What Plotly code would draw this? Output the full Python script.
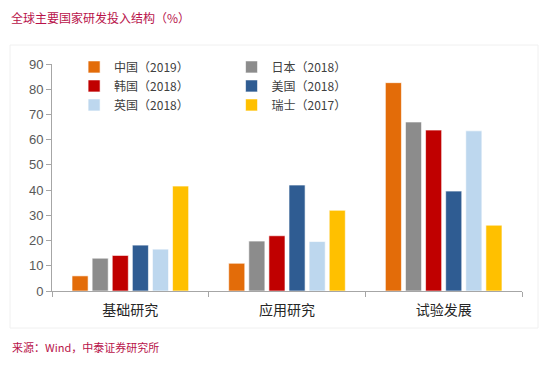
import plotly.graph_objects as go

categories = ["基础研究", "应用研究", "试验发展"]
series_names = ["中国（2019）", "日本（2018）", "韩国（2018）", "美国（2018）", "英国（2018）", "瑞士（2017）"]
china = [6, 11, 82.6]
japan = [13, 19.8, 67]
korea = [14.1, 21.9, 63.8]
usa = [18.2, 42, 39.6]
uk = [16.6, 19.6, 63.5]
swiss = [41.6, 32, 26.1]
y_ticks = [0, 10, 20, 30, 40, 50, 60, 70, 80, 90]

values = [china, japan, korea, usa, uk, swiss]
colors = ["#E36C09", "#8C8C8C", "#C00000", "#2F5C92", "#BDD7EE", "#FFC000"]
legend_ids = ["legend", "legend2", "legend", "legend2", "legend", "legend2"]

fig = go.Figure()
for name, vals, col, lg in zip(series_names, values, colors, legend_ids):
    fig.add_trace(go.Bar(
        x=categories, y=vals, name=name,
        marker=dict(color=col, line=dict(color="rgba(255,255,255,0.6)", width=1)),
        legend=lg,
    ))

legend_common = dict(
    orientation="v", yanchor="top", xanchor="left",
    font=dict(family="Noto Sans CJK SC", size=12, color="#404040"),
    bgcolor="rgba(0,0,0,0)", itemclick=False, tracegroupgap=0,
)

# page body has an 8px margin, so the figure is 8px smaller and margins shifted
fig.update_layout(
    width=542, height=358,
    paper_bgcolor="white", plot_bgcolor="white",
    margin=dict(l=44, r=28, t=56, b=75, autoexpand=False),
    barmode="group", bargap=0.23, bargroupgap=0.2,
    showlegend=True,
    legend=dict(x=0.047, y=1.051, **legend_common),
    legend2=dict(x=0.382, y=1.051, **legend_common),
    xaxis=dict(
        showline=True, linecolor="#A6A6A6", linewidth=1,
        ticks="outside", tickson="boundaries", ticklen=5, tickcolor="#A6A6A6",
        tickfont=dict(family="Noto Sans CJK SC", size=14, color="#262626"),
        ticklabelstandoff=6, automargin=False,
    ),
    yaxis=dict(
        range=[0, 90], tickvals=y_ticks, showgrid=False, zeroline=False,
        showline=True, linecolor="#A6A6A6", linewidth=1,
        ticks="outside", ticklen=5, tickcolor="#A6A6A6",
        tickfont=dict(family="Liberation Sans", size=13, color="#595959"),
        automargin=False,
    ),
    font=dict(family="Noto Sans CJK SC"),
)

fig.add_annotation(
    text="全球主要国家研发投入结构（%）", xref="paper", yref="paper",
    x=-43/470, y=1 + (64 - 17.5) / 227, xanchor="left", yanchor="middle",
    showarrow=False, font=dict(family="Noto Sans CJK SC", size=12, color="#B8124A"),
)
fig.add_annotation(
    text="来源：Wind，中泰证券研究所", xref="paper", yref="paper",
    x=-42/470, y=-(347 - 291) / 227, xanchor="left", yanchor="middle",
    showarrow=False, font=dict(family="Noto Sans CJK SC", size=11, color="#B8124A"),
)
fig.add_shape(
    type="rect", xref="paper", yref="paper",
    x0=-42/470, x1=(538 - 52)/470, y0=-(328 - 291)/227, y1=1 + (64 - 45)/227,
    line=dict(color="#F0F0F0", width=1), layer="below",
)

fig.write_html("out.html")
